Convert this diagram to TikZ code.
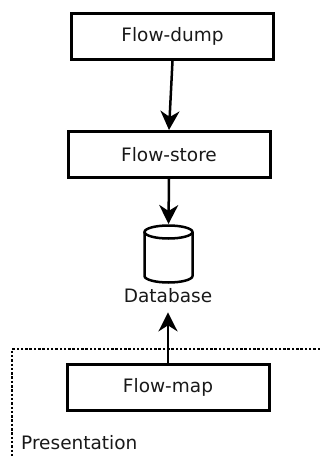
\documentclass[tikz,border=0pt]{standalone}
\usepackage{fontspec}
\setmainfont{DejaVu Sans}
\usetikzlibrary{arrows.meta}
\begin{document}
\begin{tikzpicture}[x=1pt,y=-1pt,
  every node/.style={text=black!90,font=\fontsize{18.5}{21}\selectfont},
  box/.style={draw=black,line width=3pt,minimum width=202pt,minimum height=46pt,inner sep=0pt},
  flow/.style={line width=2.5pt,-{Stealth[length=19pt,width=19pt,inset=6pt]}}]
  \useasboundingbox (0,0) rectangle (320,458);
  \node[box] (dump) at (172.5,36.5) {Flow-dump};
  \node[box] (store) at (169,154.5) {Flow-store};
  % database cylinder
  \draw[line width=2.5pt] (144.5,232) -- (144.5,276)
    arc[start angle=180,end angle=360,x radius=24pt,y radius=6.5pt] -- (192.5,232);
  \draw[line width=2.5pt] (168.5,232) ellipse[x radius=24pt,y radius=6.5pt];
  \coordinate (db) at (168.5,224);
  \node[inner sep=9pt] (dblabel) at (168,296) {Database};
  \node[box] (map) at (168,387) {Flow-map};
  \draw[flow] (dump.south) -- (store.north);
  \draw[flow] (store.south) -- (db);
  \draw[flow] (map.north) -- (dblabel.south);
  % presentation layer
  \draw[line width=2.5pt,dash pattern=on 2.5pt off 1.8pt] (320,349) -- (12,349) -- (12,458);
  \node[anchor=west,inner sep=0pt] (pres) at (21,443) {Presentation};
\end{tikzpicture}
\end{document}
